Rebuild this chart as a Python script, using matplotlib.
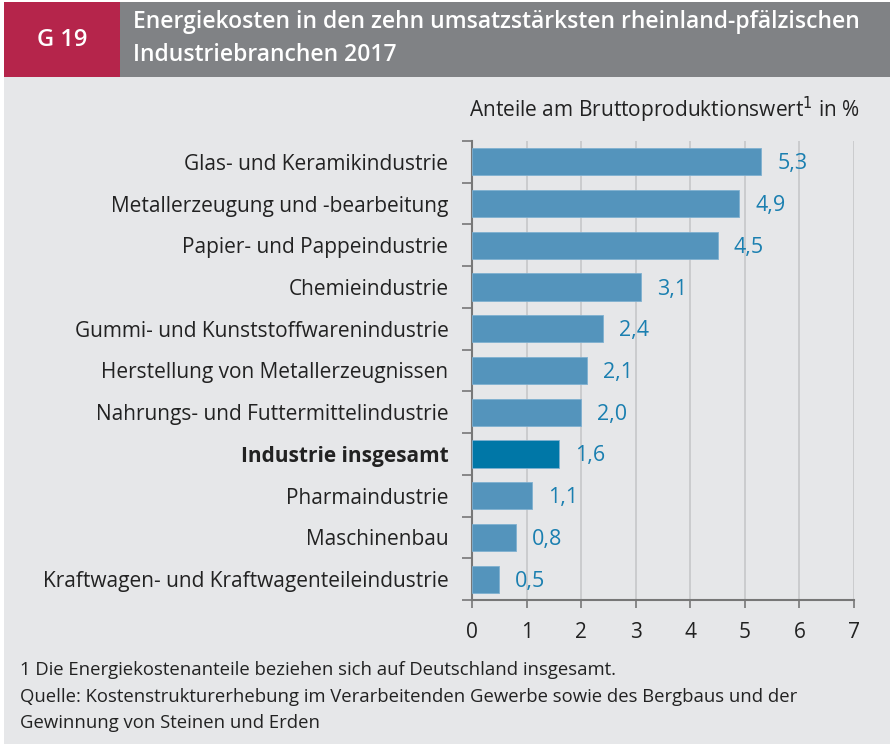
import matplotlib
matplotlib.use("Agg")
import matplotlib.pyplot as plt
from matplotlib.patches import Rectangle
import numpy as np

plt.rcParams['font.family'] = ['Open Sans', 'DejaVu Sans']

categories = [
    "Glas- und Keramikindustrie",
    "Metallerzeugung und -bearbeitung",
    "Papier- und Pappeindustrie",
    "Chemieindustrie",
    "Gummi- und Kunststoffwarenindustrie",
    "Herstellung von Metallerzeugnissen",
    "Nahrungs- und Futtermittelindustrie",
    "Industrie insgesamt",
    "Pharmaindustrie",
    "Maschinenbau",
    "Kraftwagen- und Kraftwagenteileindustrie",
]
values = [5.3, 4.9, 4.5, 3.1, 2.4, 2.1, 2.0, 1.6, 1.1, 0.8, 0.5]
value_labels = ["5,3", "4,9", "4,5", "3,1", "2,4", "2,1", "2,0", "1,6", "1,1", "0,8", "0,5"]
highlight = "Industrie insgesamt"
xticks = [0, 1, 2, 3, 4, 5, 6, 7]

W, H = 890, 744
fig = plt.figure(figsize=(W / 100, H / 100), dpi=100, facecolor="white")

bg = "#e6e7e9"
fig.patches.append(Rectangle((4 / W, 0), 1 - 4 / W, 1 - 2 / H, transform=fig.transFigure,
                             facecolor=bg, edgecolor="none", zorder=-10))
fig.patches.append(Rectangle((4 / W, 1 - 77 / H), 116 / W, 75 / H, transform=fig.transFigure,
                             facecolor="#b5254b", edgecolor="none", zorder=-5))
fig.patches.append(Rectangle((120 / W, 1 - 77 / H), 1 - 120 / W, 75 / H, transform=fig.transFigure,
                             facecolor="#808285", edgecolor="none", zorder=-5))

fig.text(62 / W, 1 - 40 / H, "G 19", color="white", fontsize=17, fontweight="semibold",
         ha="center", va="center")
fig.text(133 / W, 1 - 22 / H, "Energiekosten in den zehn umsatzstärksten rheinland-pfälzischen",
         color="white", fontsize=16.5, fontweight="semibold", ha="left", va="center")
fig.text(133 / W, 1 - 55 / H, "Industriebranchen 2017",
         color="white", fontsize=16.5, fontweight="semibold", ha="left", va="center")

fig.text(860 / W, 1 - 110 / H, "Anteile am Bruttoproduktionswert$^{1}$ in %",
         color="#222222", fontsize=15, ha="right", va="center")

left, right = 472, 854
top, bottom = 141, 600
ax = fig.add_axes([left / W, 1 - bottom / H, (right - left) / W, (bottom - top) / H])
ax.set_facecolor("none")

n = len(categories)
y = np.arange(n)
colors = ["#0077a7" if c == highlight else "#5494bc" for c in categories]
ax.barh(y, values, height=0.65, color=colors, edgecolor="#7fb0d0", linewidth=0.6, zorder=3)
ax.set_ylim(n - 0.5, -0.5)
ax.set_xlim(0, 7)

for yi, v, lab in zip(y, values, value_labels):
    ax.annotate(lab, (v, yi), xytext=(16, -2), textcoords="offset pixels",
                ha="left", va="center", color="#1a7fb0", fontsize=15.5)

ax.set_xticks(xticks)
ax.set_xticklabels([str(t) for t in xticks], fontsize=15, color="#222222")
ax.xaxis.grid(True, color="#c6c7c9", linewidth=1.2, zorder=0)
ax.set_axisbelow(True)

ax.set_yticks(y)
ax.set_yticklabels(categories, fontsize=15, color="#222222")
for lbl in ax.get_yticklabels():
    if lbl.get_text() == highlight:
        lbl.set_fontweight("bold")
ax.tick_params(axis="y", length=0, pad=17)
ax.set_yticks(np.arange(-0.5, n, 1), minor=True)
ax.tick_params(axis="y", which="minor", length=7, width=1.2, color="#777777")
ax.tick_params(axis="x", length=6, width=1.2, color="#777777", pad=10)

for s in ["top", "right"]:
    ax.spines[s].set_visible(False)
for s in ["left", "bottom"]:
    ax.spines[s].set_color("#777777")
    ax.spines[s].set_linewidth(1.5)

fs = 13.3
fig.text(20 / W, 1 - 670 / H, "1 Die Energiekostenanteile beziehen sich auf Deutschland insgesamt.",
         fontsize=fs, color="#222222", ha="left", va="center")
fig.text(20 / W, 1 - 697 / H, "Quelle: Kostenstrukturerhebung im Verarbeitenden Gewerbe sowie des Bergbaus und der",
         fontsize=fs, color="#222222", ha="left", va="center")
fig.text(20 / W, 1 - 723 / H, "Gewinnung von Steinen und Erden",
         fontsize=fs, color="#222222", ha="left", va="center")

fig.savefig("out.png", dpi=100, facecolor="white")
